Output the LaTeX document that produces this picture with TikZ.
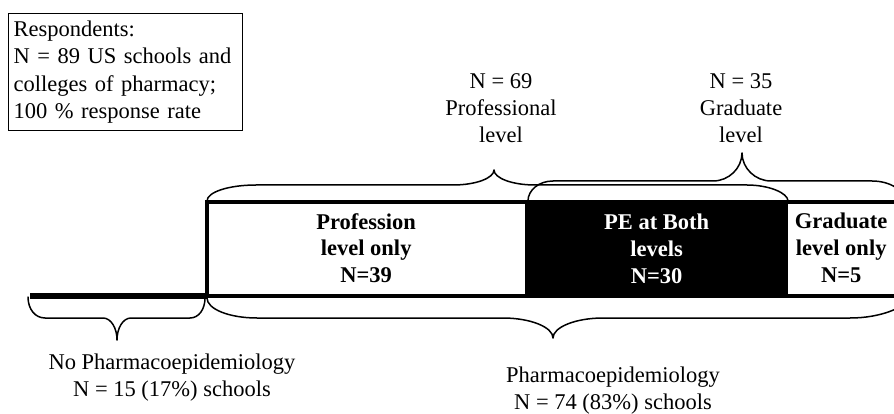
\documentclass[tikz,border=0pt]{standalone}
\usepackage{fontspec}
\setmainfont{Liberation Serif}
\begin{document}
\begin{tikzpicture}[x=1pt,y=-1pt,
  txt/.style={font=\fontsize{22.5}{27}\selectfont, align=center, inner sep=0},
  btxt/.style={font=\fontsize{22.5}{26.7}\selectfont\bfseries, align=center, inner sep=0},
  seg/.style={minimum height=94, inner sep=0, anchor=west},
  brace/.style={line width=1.5pt, line cap=round, line join=round},
  bar/.style={line width=4pt, line join=miter}]
\clip (0,0) rectangle (894,414);
\fill[white] (0,0) rectangle (894,414);

% respondents box
\node[draw, line width=1.4pt, anchor=north west, minimum width=234, minimum height=117,
      text width=224, inner xsep=5, inner ysep=0, align=left,
      font=\fontsize{22.5}{27.3}\selectfont] (resp) at (8,13)
  {Respondents:\\N = 89 US schools and\\colleges of pharmacy;\\100 \% response rate};

% bar segments
\node[seg, btxt, minimum width=318] (prof) at (207,248) {Profession\\level only\\N=39};
\node[seg, btxt, fill=black, text=white, minimum width=263, minimum height=96] (both) at (525,249) {PE at Both\\levels\\N=30};
\node[seg, btxt, minimum width=106] (grad) at (788,248) {Graduate\\level only\\N=5};

% bar outline
\draw[bar] (900,202) -- (207,202) -- (207,296) -- (900,296);
\draw[line width=6pt] (30,295.5) -- (207,295.5);

% top braces
\draw[brace] (207,201) .. controls (207,192) and (229,185) .. (256,185) -- (453,185)
  .. controls (476,185) and (494,178) .. (494,170)
  .. controls (494,178) and (512,185) .. (535,185) -- (747,185)
  .. controls (769,185) and (788,193) .. (788,201);
\draw[brace] (528,201) .. controls (528,190) and (539,181) .. (553,181) -- (713,181)
  .. controls (729,181) and (742,168) .. (742,153)
  .. controls (742,168) and (755,181) .. (771,181) -- (872,181)
  .. controls (890,181) and (905,190) .. (908,205);

% bottom braces
\draw[brace] (28,297) .. controls (28,309) and (35,318) .. (45,318) -- (103,318)
  .. controls (111,318) and (117,328) .. (117,340)
  .. controls (117,328) and (123,318) .. (131,318) -- (190,318)
  .. controls (199,318) and (205,309) .. (205,298);
\draw[brace] (207,298) .. controls (207,309) and (229,318) .. (257,318) -- (503,318)
  .. controls (530,318) and (553,327) .. (553,338)
  .. controls (553,327) and (576,318) .. (603,318) -- (850,318)
  .. controls (880,318) and (905,308) .. (912,296);

% labels
\node[txt] (profN) at (501,108) {N = 69\\Professional\\level};
\node[txt] (gradN) at (741,108) {N = 35\\Graduate\\level};
\node[txt] (nope) at (172,378) {No Pharmacoepidemiology\\N = 15 (17\%) schools};
\node[txt] (pe) at (613,391) {Pharmacoepidemiology\\N = 74 (83\%) schools};
\end{tikzpicture}
\end{document}
